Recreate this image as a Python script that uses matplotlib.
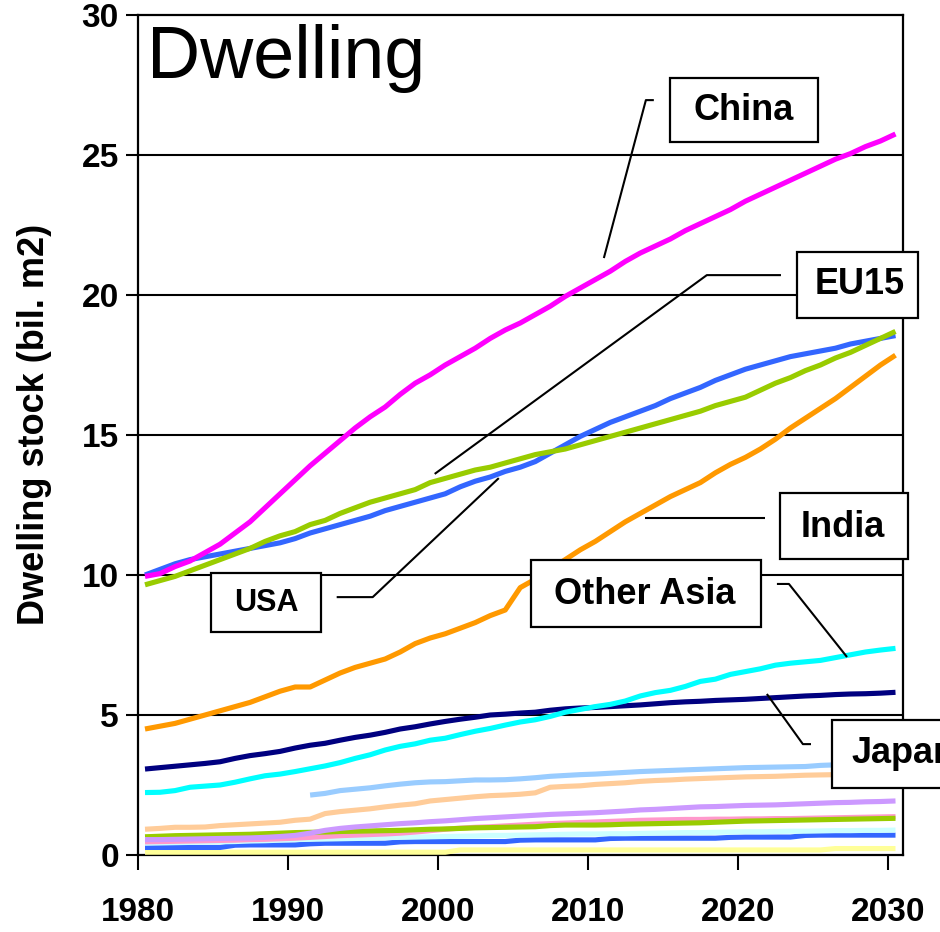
import numpy as np
import matplotlib
matplotlib.use("Agg")
import matplotlib.pyplot as plt
from matplotlib.patches import Rectangle
from matplotlib.font_manager import FontProperties

plt.rcParams['font.family'] = ['Liberation Sans', 'DejaVu Sans']

years = np.arange(1980, 2031)
years_lb = np.arange(1991, 2031)

china = [9.95, 10.05, 10.3, 10.5, 10.8, 11.1, 11.5, 11.9, 12.4, 12.9,
         13.4, 13.9, 14.35, 14.8, 15.25, 15.65, 16.0, 16.45, 16.85, 17.15,
         17.5, 17.8, 18.1, 18.45, 18.75, 19.0, 19.3, 19.6, 19.95, 20.25,
         20.55, 20.85, 21.2, 21.5, 21.75, 22.0, 22.3, 22.55, 22.8, 23.05,
         23.35, 23.6, 23.85, 24.1, 24.35, 24.6, 24.85, 25.05, 25.3, 25.5,
         25.75]
usa = [10.0, 10.2, 10.4, 10.55, 10.65, 10.75, 10.85, 10.95, 11.05, 11.15,
       11.3, 11.5, 11.65, 11.8, 11.95, 12.1, 12.3, 12.45, 12.6, 12.75,
       12.9, 13.15, 13.35, 13.5, 13.7, 13.85, 14.05, 14.35, 14.65, 14.95,
       15.2, 15.45, 15.65, 15.85, 16.05, 16.3, 16.5, 16.7, 16.95, 17.15,
       17.35, 17.5, 17.65, 17.8, 17.9, 18.0, 18.1, 18.25, 18.35, 18.45,
       18.55]
eu15 = [9.65, 9.8, 9.95, 10.15, 10.35, 10.55, 10.75, 10.95, 11.2, 11.4,
        11.55, 11.8, 11.95, 12.2, 12.4, 12.6, 12.75, 12.9, 13.05, 13.3,
        13.45, 13.6, 13.75, 13.85, 14.0, 14.15, 14.3, 14.4, 14.5, 14.65,
        14.8, 14.95, 15.1, 15.25, 15.4, 15.55, 15.7, 15.85, 16.05, 16.2,
        16.35, 16.6, 16.85, 17.05, 17.3, 17.5, 17.75, 17.95, 18.2, 18.45,
        18.7]
india = [4.5, 4.6, 4.7, 4.85, 5.0, 5.15, 5.3, 5.45, 5.65, 5.85,
         6.0, 6.0, 6.25, 6.5, 6.7, 6.85, 7.0, 7.25, 7.55, 7.75,
         7.9, 8.1, 8.3, 8.55, 8.75, 9.55, 9.85, 10.2, 10.55, 10.9,
         11.2, 11.55, 11.9, 12.2, 12.5, 12.8, 13.05, 13.3, 13.65, 13.95,
         14.2, 14.5, 14.85, 15.25, 15.6, 15.95, 16.3, 16.7, 17.1, 17.5,
         17.85]
japan = [3.07, 3.12, 3.17, 3.22, 3.27, 3.33, 3.45, 3.55, 3.62, 3.7,
         3.82, 3.92, 3.99, 4.1, 4.2, 4.28, 4.38, 4.5, 4.58, 4.68,
         4.77, 4.85, 4.92, 5.0, 5.03, 5.07, 5.1, 5.17, 5.22, 5.25,
         5.27, 5.3, 5.33, 5.36, 5.4, 5.44, 5.47, 5.49, 5.52, 5.54,
         5.56, 5.59, 5.62, 5.65, 5.68, 5.7, 5.73, 5.75, 5.76, 5.78,
         5.81]
other_asia = [2.23, 2.24, 2.3, 2.42, 2.46, 2.5, 2.6, 2.72, 2.83, 2.89,
              2.98, 3.08, 3.18, 3.3, 3.45, 3.58, 3.75, 3.88, 3.97, 4.1,
              4.17, 4.3, 4.42, 4.52, 4.64, 4.75, 4.83, 4.95, 5.1, 5.2,
              5.3, 5.38, 5.5, 5.68, 5.8, 5.88, 6.02, 6.2, 6.28, 6.45,
              6.55, 6.65, 6.78, 6.85, 6.9, 6.95, 7.05, 7.15, 7.25, 7.32,
              7.38]
light_blue = [2.14, 2.2, 2.3, 2.35, 2.4, 2.47, 2.53, 2.58, 2.61,
              2.62, 2.65, 2.68, 2.68, 2.69, 2.72, 2.76, 2.81, 2.84, 2.87,
              2.89, 2.92, 2.95, 2.98, 3.0, 3.02, 3.04, 3.06, 3.08, 3.1,
              3.12, 3.13, 3.14, 3.15, 3.16, 3.2, 3.22, 3.23, 3.24, 3.25,
              3.26]
peach = [0.92, 0.95, 0.99, 0.99, 1.0, 1.05, 1.08, 1.11, 1.14, 1.17,
         1.24, 1.28, 1.48, 1.55, 1.6, 1.65, 1.72, 1.78, 1.83, 1.93,
         1.98, 2.03, 2.08, 2.12, 2.14, 2.17, 2.22, 2.42, 2.45, 2.47,
         2.52, 2.55, 2.58, 2.63, 2.66, 2.68, 2.71, 2.73, 2.75, 2.77,
         2.79, 2.8, 2.81, 2.83, 2.85, 2.86, 2.87, 2.88, 2.89, 2.9,
         2.9]
lavender = [0.55, 0.55, 0.56, 0.57, 0.58, 0.59, 0.6, 0.61, 0.63, 0.66,
            0.7, 0.78, 0.88, 0.95, 1.0, 1.04, 1.08, 1.12, 1.15, 1.19,
            1.22, 1.26, 1.3, 1.33, 1.36, 1.39, 1.42, 1.45, 1.47, 1.49,
            1.51, 1.54, 1.57, 1.61, 1.63, 1.66, 1.69, 1.72, 1.73, 1.75,
            1.77, 1.78, 1.79, 1.81, 1.83, 1.85, 1.87, 1.88, 1.9, 1.91,
            1.93]
pink = [0.47, 0.48, 0.49, 0.5, 0.51, 0.52, 0.53, 0.55, 0.56, 0.58,
        0.6, 0.63, 0.66, 0.69, 0.71, 0.73, 0.75, 0.78, 0.82, 0.87,
        0.92, 0.96, 0.99, 1.01, 1.04, 1.07, 1.1, 1.12, 1.14, 1.16,
        1.18, 1.2, 1.22, 1.24, 1.25, 1.26, 1.27, 1.27, 1.28, 1.28,
        1.29, 1.29, 1.3, 1.3, 1.31, 1.32, 1.33, 1.34, 1.35, 1.36,
        1.37]
green_small = [0.65, 0.67, 0.69, 0.7, 0.71, 0.72, 0.73, 0.74, 0.76, 0.78,
               0.8, 0.81, 0.82, 0.84, 0.85, 0.86, 0.87, 0.88, 0.9, 0.92,
               0.93, 0.95, 0.97, 0.98, 0.99, 1.0, 1.01, 1.05, 1.07, 1.07,
               1.07, 1.08, 1.1, 1.11, 1.12, 1.13, 1.14, 1.15, 1.17, 1.19,
               1.21, 1.22, 1.23, 1.24, 1.25, 1.26, 1.27, 1.28, 1.29, 1.3,
               1.31]
light_cyan = [0.42, 0.43, 0.44, 0.45, 0.46, 0.47, 0.48, 0.5, 0.51, 0.53,
              0.55, 0.56, 0.57, 0.58, 0.59, 0.6, 0.62, 0.63, 0.64, 0.65,
              0.66, 0.67, 0.68, 0.7, 0.7, 0.71, 0.72, 0.73, 0.74, 0.75,
              0.75, 0.76, 0.76, 0.77, 0.78, 0.79, 0.8, 0.8, 0.81, 0.82,
              0.83, 0.83, 0.84, 0.85, 0.85, 0.86, 0.87, 0.87, 0.88, 0.88,
              0.89]
blue_small = [0.27, 0.27, 0.27, 0.27, 0.27, 0.27, 0.35, 0.36, 0.36, 0.36,
              0.36, 0.4, 0.42, 0.42, 0.42, 0.42, 0.42, 0.47, 0.48, 0.48,
              0.48, 0.48, 0.48, 0.48, 0.48, 0.53, 0.54, 0.54, 0.54, 0.54,
              0.54, 0.59, 0.6, 0.6, 0.6, 0.6, 0.6, 0.6, 0.6, 0.63,
              0.64, 0.64, 0.64, 0.64, 0.7, 0.71, 0.71, 0.71, 0.71, 0.71,
              0.71]
yellow = [0.1] * 21 + [0.18] * 25 + [0.23] * 5

y_ticks = [0, 5, 10, 15, 20, 25, 30]
x_ticks = [1980, 1990, 2000, 2010, 2020, 2030]

fig = plt.figure(figsize=(9.4, 9.32), dpi=100)
ax = fig.add_axes([137.5 / 940, 1 - 855 / 932, 765.5 / 940, 840 / 932])

lw = 3.7
xs = years + 0.5
series = [
    (xs, yellow, '#FFFF99'),
    (xs, blue_small, '#3366FF'),
    (xs, light_cyan, '#CCFFFF'),
    (xs, pink, '#FF99CC'),
    (xs, green_small, '#99CC00'),
    (xs, lavender, '#CC99FF'),
    (xs, peach, '#FFCC99'),
    (years_lb + 0.5, light_blue, '#99CCFF'),
    (xs, japan, '#000080'),
    (xs, other_asia, '#00FFFF'),
    (xs, india, '#FF9900'),
    (xs, usa, '#3366FF'),
    (xs, eu15, '#99CC00'),
    (xs, china, '#FF00FF'),
]
for x, y, c in series:
    ax.plot(x, y, color=c, lw=lw, solid_capstyle='butt', zorder=3)

ax.set_xlim(1980, 2031)
ax.set_ylim(0, 30)
ax.set_yticks(y_ticks)
ax.set_xticks(x_ticks)
ax.set_yticklabels([str(v) for v in y_ticks])
ax.set_xticklabels([str(v) for v in x_ticks])
for g in y_ticks[1:-1]:
    ax.axhline(g, color='black', lw=1.5, zorder=1)

for s in ax.spines.values():
    s.set_linewidth(1.6)
    s.set_color('black')

tick_fp = FontProperties(family=['Liberation Sans Narrow', 'Liberation Sans'],
                         weight='bold', size=24)
ax.tick_params(axis='y', direction='out', length=8.5, width=1.5, pad=5)
ax.tick_params(axis='x', direction='out', length=11, width=1.5, pad=19)
for lab in ax.get_xticklabels() + ax.get_yticklabels():
    lab.set_fontproperties(tick_fp)

fig.text(35 / 940, 1 - 424 / 932, 'Dwelling stock (bil. m2)', rotation=90,
         ha='center', va='center', fontsize=26, fontweight='bold')

ax.text(1980.6, 27.75, 'Dwelling', fontsize=53, ha='left', va='baseline')


def label_box(x0, x1, y0, y1, text, tx, ty, size=26, ha='center'):
    ax.add_patch(Rectangle((x0, y0), x1 - x0, y1 - y0, facecolor='white',
                           edgecolor='black', lw=1.6, clip_on=False, zorder=5))
    ax.text(tx, ty, text, fontsize=size, fontweight='bold', ha=ha,
            va='center', zorder=6, clip_on=False)


def leader(pts):
    px = [p[0] for p in pts]
    py = [p[1] for p in pts]
    ax.plot(px, py, color='black', lw=1.5, zorder=4, clip_on=False,
            solid_capstyle='butt')


label_box(2015.47, 2025.33, 25.46, 27.75, 'China', 2020.4, 26.6)
leader([(2011.07, 21.32), (2013.87, 26.96), (2014.4, 26.96)])

label_box(2023.93, 2032.0, 19.18, 21.54, 'EU15', 2028.1, 20.36)
leader([(1999.8, 13.61), (2017.93, 20.71), (2022.87, 20.71)])

label_box(1984.93, 1992.2, 7.96, 10.07, 'USA', 1988.6, 9.0, size=22)
leader([(1993.27, 9.21), (1995.67, 9.21), (2004.07, 13.46)])

label_box(2022.8, 2031.33, 10.57, 12.93, 'India', 2027.0, 11.71)
leader([(2013.8, 12.04), (2021.8, 12.04)])

label_box(2006.2, 2021.53, 8.14, 10.54, 'Other Asia', 2013.8, 9.32)
leader([(2022.6, 9.68), (2023.4, 9.68), (2027.27, 7.07)])

label_box(2026.27, 2034.0, 2.39, 4.82, 'Japan', 2027.6, 3.61, ha='left')
leader([(2021.93, 5.75), (2024.33, 3.96), (2024.87, 3.96)])

fig.savefig('out.png', dpi=100)
